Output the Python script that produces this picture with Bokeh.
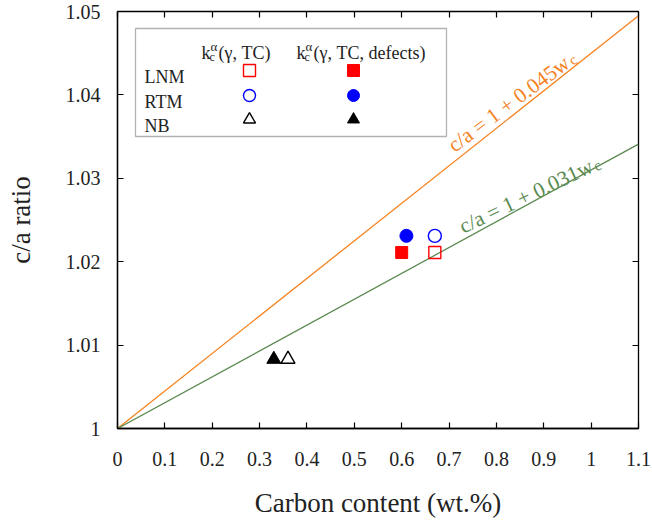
import math
from bokeh.plotting import figure
from bokeh.models import (Range1d, FixedTicker, CustomJSTickFormatter, LinearAxis,
                          Label, BoxAnnotation, Legend, LegendItem)
from bokeh.embed import file_html
from bokeh.resources import INLINE

# ---------------- data ----------------
materials = ["LNM", "RTM", "NB"]
carbon_tc = [0.67, 0.67, 0.36]          # k_c^alpha(gamma, TC)
ratio_tc = [1.0211, 1.0231, 1.0083]
carbon_defects = [0.60, 0.61, 0.33]     # k_c^alpha(gamma, TC, defects)
ratio_defects = [1.0211, 1.0231, 1.0083]
marker_shapes = ["square", "circle", "triangle"]
marker_colors = ["#ff0000", "#0000ff", "#000000"]
marker_sizes = [12, 13, 14]

fit_slopes = [0.045, 0.031]
fit_colors = ["#f5821f", "#5b8a50"]
fit_labels = ["c/a = 1 + 0.045w", "c/a = 1 + 0.031w"]
fit_x = [0.0, 1.1]

x_ticks = [0, 0.1, 0.2, 0.3, 0.4, 0.5, 0.6, 0.7, 0.8, 0.9, 1.0, 1.1]
y_ticks = [1.0, 1.01, 1.02, 1.03, 1.04, 1.05]

FONT = "Liberation Serif"

# ---------------- figure ----------------
W, H = 652, 522
FL, FR, FT, FB = 117, 638, 11, 428
X0, X1, Y0, Y1 = 0.0, 1.1, 1.0, 1.05

p = figure(width=W, height=H, output_backend="svg", toolbar_location=None,
           x_range=Range1d(X0, X1), y_range=Range1d(Y0, Y1),
           min_border_left=FL, min_border_right=W - FR,
           min_border_top=FT, min_border_bottom=H - FB,
           background_fill_color="white", border_fill_color="white")
p.xgrid.visible = False
p.ygrid.visible = False
p.outline_line_color = "black"
p.outline_line_width = 1.3


def dx(px):
    return X0 + (px - FL) / (FR - FL) * (X1 - X0)


def dy(py):
    return Y0 + (FB - py) / (FB - FT) * (Y1 - Y0)


fmt = CustomJSTickFormatter(code="return String(parseFloat(tick.toFixed(3)));")
blank = CustomJSTickFormatter(code="return '';")

for ax in (p.xaxis[0], p.yaxis[0]):
    ax.major_tick_in = 6
    ax.major_tick_out = 0
    ax.minor_tick_in = 0
    ax.minor_tick_out = 0
    ax.axis_line_color = "black"
    ax.axis_line_width = 1.3
    ax.major_tick_line_width = 1.2
    ax.formatter = fmt
    ax.major_label_text_font = FONT
    ax.major_label_text_font_size = "20px"
    ax.major_label_text_color = "#222222"
    ax.axis_label_text_font = FONT
    ax.axis_label_text_font_style = "normal"
    ax.axis_label_text_font_size = "27px"
    ax.axis_label_text_color = "#222222"

p.xaxis[0].ticker = FixedTicker(ticks=x_ticks)
p.yaxis[0].ticker = FixedTicker(ticks=y_ticks)
p.xaxis[0].axis_label = "Carbon content (wt.%)"
p.yaxis[0].axis_label = "c/a ratio"
p.xaxis[0].major_label_standoff = 23
p.yaxis[0].major_label_standoff = 17
p.xaxis[0].axis_label_standoff = 19
p.yaxis[0].axis_label_standoff = 27

# mirrored ticks top / right
top_ax = LinearAxis(ticker=FixedTicker(ticks=x_ticks), formatter=blank,
                    major_tick_in=6, major_tick_out=0, minor_tick_in=0, minor_tick_out=0,
                    major_label_standoff=0, axis_line_color=None,
                    major_tick_line_width=1.2)
right_ax = LinearAxis(ticker=FixedTicker(ticks=y_ticks), formatter=blank,
                      major_tick_in=6, major_tick_out=0, minor_tick_in=0, minor_tick_out=0,
                      major_label_standoff=0, axis_line_color=None,
                      major_tick_line_width=1.2)
p.add_layout(top_ax, "above")
p.add_layout(right_ax, "right")

# ---------------- fit lines ----------------
for k, c in zip(fit_slopes, fit_colors):
    p.line(fit_x, [1 + k * x for x in fit_x], line_color=c, line_width=1.3)

# ---------------- data points ----------------
open_r, filled_r = [], []
for i in range(len(materials)):
    ro = p.scatter([carbon_tc[i]], [ratio_tc[i]], marker=marker_shapes[i],
                   size=marker_sizes[i], fill_color="white", fill_alpha=0,
                   line_color=marker_colors[i], line_width=1.4)
    rf = p.scatter([carbon_defects[i]], [ratio_defects[i]], marker=marker_shapes[i],
                   size=marker_sizes[i], fill_color=marker_colors[i],
                   line_color=marker_colors[i], line_width=1)
    open_r.append(ro)
    filled_r.append(rf)

# ---------------- legend (table style) ----------------
box = BoxAnnotation(left=dx(135), right=dx(446), top=dy(28), bottom=dy(136),
                    fill_alpha=0, fill_color=None, line_color="black", line_width=1.3)
p.add_layout(box)

row_centers = [70, 95, 119]
GL = 30
for rs, xcenter in ((open_r, 249), (filled_r, 353)):
    for r, yc in zip(rs, row_centers):
        leg = Legend(items=[LegendItem(label=" ", renderers=[r])],
                     location=(xcenter - GL / 2 - FL, FB - (yc + GL / 2)),
                     glyph_width=GL, glyph_height=GL, spacing=0, padding=0, margin=0,
                     label_standoff=0, label_width=1, label_text_font_size="10px",
                     border_line_alpha=0, background_fill_alpha=0)
        p.add_layout(leg, "center")

LEG_FS = "18px"
row_baselines = [76, 101, 125]
for name, yb in zip(materials, row_baselines):
    p.add_layout(Label(x=dx(144), y=dy(yb), text=name, text_font=FONT,
                       text_font_size=LEG_FS, text_color="#222222",
                       text_baseline="alphabetic", text_align="left"))


def header(x0, rest):
    pieces = [("k", x0, 52, LEG_FS), ("c", x0 + 8, 56, "12px"),
              ("\u03b1", x0 + 9, 46, "13px"), (rest, x0 + 17, 52, LEG_FS)]
    for t, px, py, fs in pieces:
        p.add_layout(Label(x=dx(px), y=dy(py), text=t, text_font=FONT,
                           text_font_size=fs, text_color="#222222",
                           text_baseline="alphabetic", text_align="left"))


header(201, "(\u03b3, TC)")
header(296, "(\u03b3, TC, defects)")

# ---------------- fit labels ----------------
fit_anchor = [(450, 147), (460, 227)]
fit_angle = [36.7, 25.5]
MAIN_LEN = 145
for lab, c, (ax_, ay_), ang in zip(fit_labels, fit_colors, fit_anchor, fit_angle):
    th = math.radians(ang)
    p.add_layout(Label(x=dx(ax_), y=dy(ay_), text=lab, angle=th, text_font=FONT,
                       text_font_size="21.5px", text_color=c,
                       text_baseline="alphabetic", text_align="left"))
    sx = ax_ + (MAIN_LEN + 2) * math.cos(th) + 3 * math.sin(th)
    sy = ay_ - (MAIN_LEN + 2) * math.sin(th) + 3 * math.cos(th)
    p.add_layout(Label(x=dx(sx), y=dy(sy), text="c", angle=th, text_font=FONT,
                       text_font_size="15px", text_color=c,
                       text_baseline="alphabetic", text_align="left"))

open("out.html", "w").write(file_html(p, INLINE))
